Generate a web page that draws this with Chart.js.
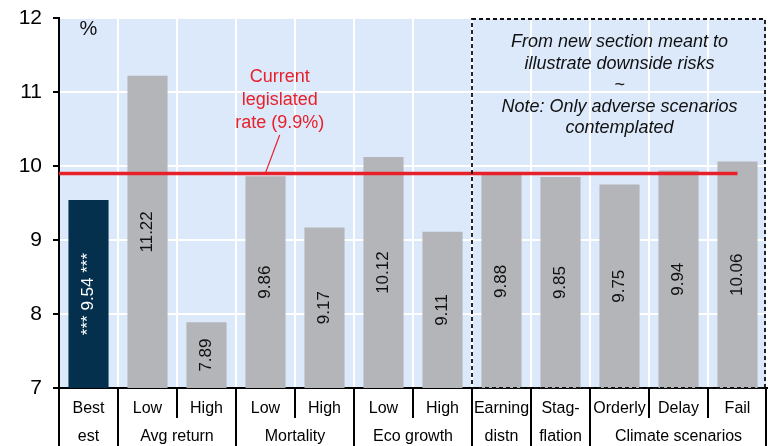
<!DOCTYPE html>
<html>
<head>
<meta charset="utf-8">
<script src="https://cdn.jsdelivr.net/npm/chart.js@4.4.1/dist/chart.umd.min.js"></script>
<style>
  html, body { margin: 0; padding: 0; background: #fff; }
  #wrap { width: 775px; height: 446px; }
</style>
</head>
<body>
<div id="wrap"><canvas id="rateChart"></canvas></div>
<script>
// data
var scenarios = ['Best', 'Low', 'High', 'Low', 'High', 'Low', 'High', 'Earning', 'Stag-', 'Orderly', 'Delay', 'Fail'];
var groups = ['est', 'Avg return', 'Mortality', 'Eco growth', 'distn', 'flation', 'Climate scenarios'];
var groupSizes = [1, 2, 2, 2, 1, 1, 3];
var rates = [9.54, 11.22, 7.89, 9.86, 9.17, 10.12, 9.11, 9.88, 9.85, 9.75, 9.94, 10.06];
var legislatedRate = 9.9;
var yTicks = [7, 8, 9, 10, 11, 12];

var font = '"Liberation Sans", Arial, sans-serif';

var extras = {
    id: 'extras',
    beforeDraw: function(chart) {
        var a = chart.chartArea, c = chart.ctx;
        c.save();
        c.fillStyle = '#dce9fb';
        c.fillRect(a.left, a.top, a.right - a.left, a.bottom - a.top);
        c.restore();
    },
    afterDatasetsDraw: function(chart) {
        var c = chart.ctx, a = chart.chartArea;
        var x = chart.scales.x, y = chart.scales.y;
        c.save();

        // value labels inside bars
        c.font = '17px ' + font;
        c.textAlign = 'center';
        c.textBaseline = 'middle';
        rates.forEach(function(v, i) {
            var px = x.getPixelForValue(i);
            var py = (y.getPixelForValue(v) + y.getPixelForValue(7)) / 2;
            c.save();
            c.translate(px, py);
            c.rotate(-Math.PI / 2);
            c.fillStyle = i === 0 ? '#ffffff' : '#111111';
            c.fillText(i === 0 ? '*** ' + v.toFixed(2) + ' ***' : v.toFixed(2), 0, 0);
            c.restore();
        });

        // legislated rate line
        var ry = y.getPixelForValue(legislatedRate);
        c.strokeStyle = '#e8202a';
        c.lineWidth = 3.5;
        c.beginPath();
        c.moveTo(a.left, ry);
        c.lineTo(x.getPixelForValue(rates.length - 1), ry);
        c.stroke();

        // annotation
        c.fillStyle = '#e8202a';
        c.font = '18px ' + font;
        var ax = x.getPixelForValue(3.24);
        ['Current', 'legislated', 'rate (9.9%)'].forEach(function(t, k) {
            c.fillText(t, ax, 77 + k * 23);
        });
        c.lineWidth = 1.2;
        c.beginPath();
        c.moveTo(ax, 135);
        c.lineTo(ax - 14, ry - 1);
        c.stroke();

        // dashed box
        var bx = (x.getPixelForValue(6) + x.getPixelForValue(7)) / 2;
        c.strokeStyle = '#111';
        c.lineWidth = 1.8;
        c.setLineDash([4, 3]);
        c.strokeRect(bx, a.top + 1, a.right - 2 - bx, a.bottom - a.top - 1);
        c.setLineDash([]);
        c.fillStyle = '#111';
        c.font = 'italic 18px ' + font;
        var cx = (bx + a.right) / 2;
        ['From new section meant to', 'illustrate downside risks', '~', 'Note: Only adverse scenarios', 'contemplated']
            .forEach(function(t, k) { c.fillText(t, cx, 42 + k * 21.5); });

        // % unit
        c.font = '20px ' + font;
        c.fillText('%', x.getPixelForValue(0), 29);

        // x labels, two rows with separators
        c.font = '16px ' + font;
        c.fillStyle = '#000';
        var b = a.bottom;
        scenarios.forEach(function(t, i) {
            c.fillText(t, x.getPixelForValue(i), b + 21);
        });
        c.strokeStyle = '#000';
        c.lineWidth = 2;
        var edge = function(i) { return x.getPixelForValue(i - 0.5); };
        var start = 0;
        var full = [0];
        groupSizes.forEach(function(n, g) {
            c.fillText(groups[g], (edge(start) + edge(start + n)) / 2, b + 49);
            for (var k = start + 1; k < start + n; k++) {
                c.beginPath();
                c.moveTo(edge(k), b);
                c.lineTo(edge(k), b + 30);
                c.stroke();
            }
            start += n;
            full.push(start);
        });
        full.forEach(function(k) {
            var ex = k === 0 ? a.left : (k === rates.length ? a.right - 1 : edge(k));
            c.beginPath();
            c.moveTo(ex, b);
            c.lineTo(ex, b + 60);
            c.stroke();
        });
        c.restore();
    }
};

var ctx = document.getElementById('rateChart').getContext('2d');
var rateChart = new Chart(ctx, {
    type: 'bar',
    data: {
        labels: scenarios,
        datasets: [{
            data: rates,
            backgroundColor: rates.map(function(v, i) { return i === 0 ? '#04304d' : '#b4b5b8'; }),
            barPercentage: 0.68,
            categoryPercentage: 1
        }]
    },
    options: {
        responsive: true,
        maintainAspectRatio: false,
        animation: false,
        layout: { padding: { top: 18, right: 8, bottom: 58, left: 0 } },
        plugins: { legend: { display: false }, tooltip: { enabled: false } },
        scales: {
            x: {
                afterFit: function(s) { s.height = 0; s.paddingLeft = 0; s.paddingRight = 0; },
                ticks: { display: false },
                grid: { color: '#ffffff', lineWidth: 2, drawTicks: false, offset: true },
                border: { color: '#000', width: 2 }
            },
            y: {
                min: 7,
                max: 12,
                afterFit: function(s) { s.width = 59; s.paddingTop = 0; s.paddingBottom = 0; },
                afterBuildTicks: function(s) { s.ticks = yTicks.map(function(v) { return { value: v }; }); },
                ticks: { color: '#000', font: { family: font, size: 21 }, padding: 11 },
                grid: { color: '#ffffff', lineWidth: 2, tickColor: '#000', tickLength: 6 },
                border: { color: '#000', width: 2 }
            }
        }
    },
    plugins: [extras]
});
</script>
</body>
</html>
